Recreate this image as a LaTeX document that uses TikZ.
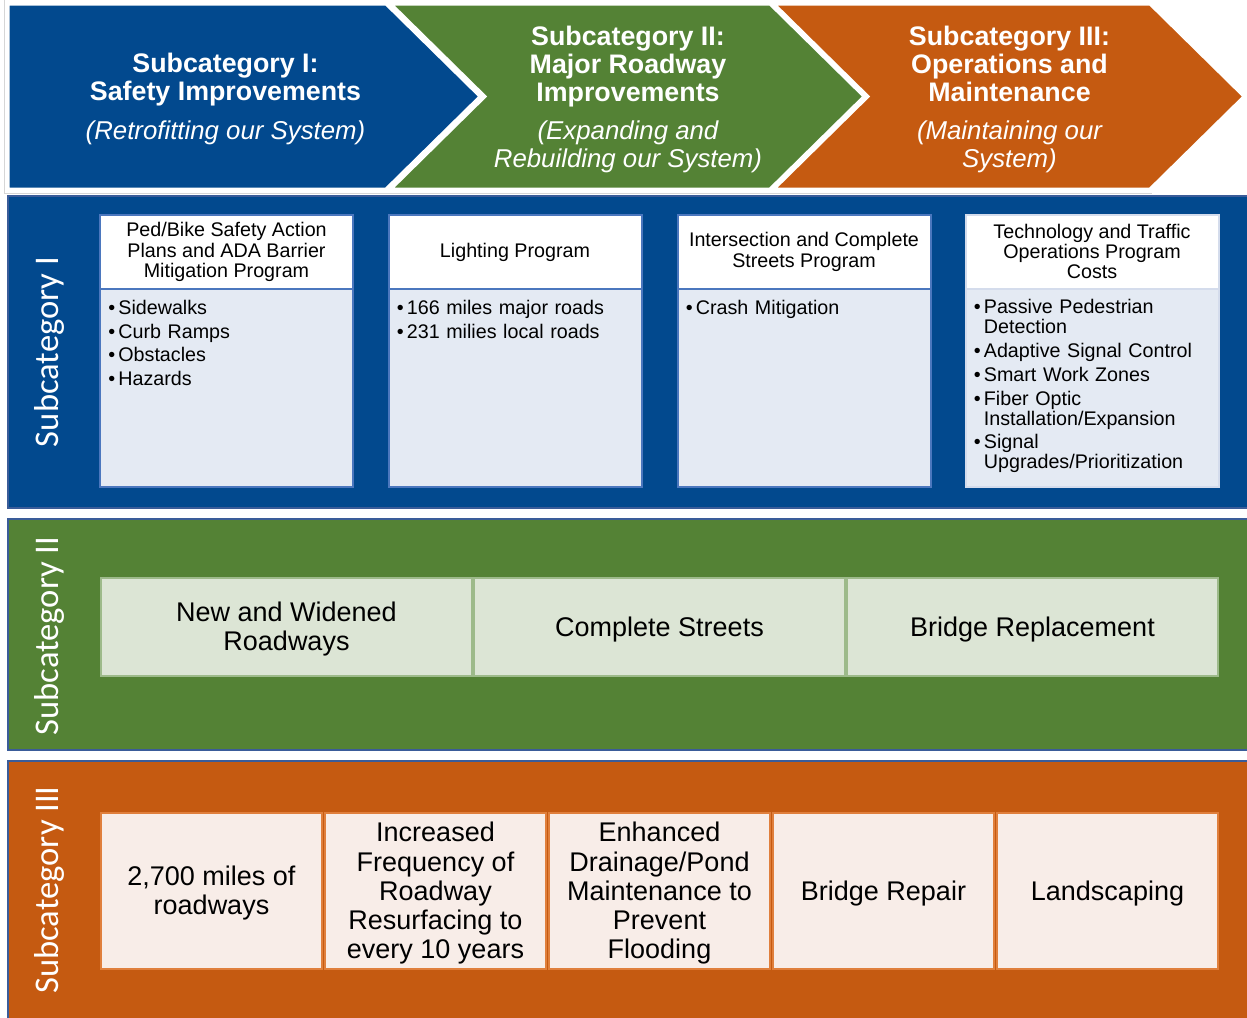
\documentclass[tikz,border=0pt]{standalone}
\usepackage{fontspec}
\setmainfont{Liberation Sans}
\newfontfamily\sidefont{Carlito}

\definecolor{pblue}{HTML}{02498E}
\definecolor{pgreen}{HTML}{548235}
\definecolor{porange}{HTML}{C55A11}
\definecolor{pedge}{HTML}{3A5C99}
\definecolor{bline}{HTML}{4B77BE}
\definecolor{bfill}{HTML}{E4EAF3}
\definecolor{bline4}{HTML}{D4DCEC}
\definecolor{gfill}{HTML}{DCE5D5}
\definecolor{gline}{HTML}{9DBA8A}
\definecolor{ofill}{HTML}{F8EDE8}
\definecolor{oline}{HTML}{E07F3C}
\definecolor{frameg}{HTML}{D6D6D6}

% one bullet item with hanging indent
\newcommand\bitem{\par\hangindent=5pt\hangafter=1\noindent\makebox[5pt][l]{•}}

\begin{document}
\begin{tikzpicture}[x=0.5pt,y=-0.5pt,
  chevedge/.style={draw=white,line width=1.5pt,line join=miter},
  panel/.style={draw=pedge,line width=1pt},
  chevtext/.style={text=white,align=center,inner sep=0,
    font=\fontsize{13.4}{14}\selectfont\bfseries},
  sidelabel/.style={text=white,rotate=90,inner sep=0,
    font=\sidefont\fontsize{17.3}{20}\selectfont},
  hdr/.style={fill=white,draw=bline,line width=1pt,minimum width=126.5pt,
    minimum height=37pt,inner sep=0,align=center,
    font=\fontsize{9.85}{10.15}\selectfont},
  bodyb/.style={fill=bfill,draw=bline,line width=1pt,minimum width=126.5pt,
    minimum height=99pt,inner sep=0},
  blist/.style={anchor=north west,inner sep=0,text width=120pt,align=left,
    font=\fontsize{9.85}{10}\selectfont},
  boxtext/.style={align=center,font=\fontsize{13.5}{14.6}\selectfont},
  gbox/.style={fill=gfill,draw=gline,line width=0.6pt,minimum width=185.5pt,
    minimum height=49pt,inner sep=0},
  obox/.style={fill=ofill,draw=oline,line width=0.6pt,minimum width=110.5pt,
    minimum height=78pt,inner sep=0}]
\useasboundingbox (0,0) rectangle (1247,1017);
\clip (0,0) rectangle (1247,1017);

% thin frame around the heading band
\draw[frameg,line width=0.5pt] (4,0) -- (4,193) -- (1152,193);

% heading chevrons
\filldraw[fill=pblue,chevedge] (8,4) -- (386,4) -- (480,96.5) -- (386,189) -- (8,189) -- cycle;
\filldraw[fill=pgreen,chevedge] (391,4) -- (770,4) -- (864,96.5) -- (770,189) -- (391,189) -- (485,96.5) -- cycle;
\filldraw[fill=porange,chevedge] (774,4) -- (1150,4) -- (1244,96.5) -- (1150,189) -- (774,189) -- (868,96.5) -- cycle;

\node[chevtext] (t1) at (225.5,99) {Subcategory I:\\Safety Improvements\\[5.2pt]
  \fontsize{12.9}{14}\selectfont\mdseries\itshape (Retrofitting our System)};
\node[chevtext] (t2) at (628,99.5) {Subcategory II:\\Major Roadway\\Improvements\\[5.2pt]
  \fontsize{12.9}{14}\selectfont\mdseries\itshape (Expanding and\\
  \fontsize{12.9}{14}\selectfont\mdseries\itshape Rebuilding our System)};
\node[chevtext] (t3) at (1009.5,99.5) {Subcategory III:\\Operations and\\Maintenance\\[5.2pt]
  \fontsize{12.9}{14}\selectfont\mdseries\itshape (Maintaining our\\
  \fontsize{12.9}{14}\selectfont\mdseries\itshape System)};

% category panels
\filldraw[fill=pblue,panel] (8,196) rectangle (1256,508);
\filldraw[fill=pgreen,panel] (8,519) rectangle (1256,750);
\filldraw[fill=porange,panel] (8,761) rectangle (1256,1030);

\node[sidelabel] (s1) at (49.5,352) {Subcategory I};
\node[sidelabel] (s2) at (49.5,636) {Subcategory II};
\node[sidelabel] (s3) at (49.5,890) {Subcategory III};

% Subcategory I programs
\node[hdr] (h1) at (226.5,252) {Ped/Bike Safety Action\\Plans and ADA Barrier\\Mitigation Program};
\node[bodyb] (b1) at (226.5,388) {};
\node[blist] (l1) at ([xshift=4.5pt,yshift=-1pt]b1.north west)
  {\setlength\parskip{1.9pt}\bitem Sidewalks\bitem Curb Ramps\bitem Obstacles\bitem Hazards\par};

\node[hdr] (h2) at (515,252) {Lighting Program};
\node[bodyb] (b2) at (515,388) {};
\node[blist] (l2) at ([xshift=4.5pt,yshift=-1pt]b2.north west)
  {\setlength\parskip{1.9pt}\bitem 166 miles major roads\bitem 231 milies local roads\par};

\node[hdr] (h3) at (804,252) {Intersection and Complete\\Streets Program};
\node[bodyb] (b3) at (804,388) {};
\node[blist] (l3) at ([xshift=4.5pt,yshift=-1pt]b3.north west)
  {\setlength\parskip{1.9pt}\bitem Crash Mitigation\par};

\node[hdr,draw=bline4] (h4) at (1092,251.5) {Technology and Traffic\\Operations Program\\Costs};
\node[bodyb,draw=bline4] (b4) at (1092,387.5) {};
\node[blist] (l4) at ([xshift=4.5pt,yshift=-1pt]b4.north west)
  {\setlength\parskip{1.9pt}\bitem Passive Pedestrian\newline Detection
   \bitem Adaptive Signal Control\bitem Smart Work Zones
   \bitem Fiber Optic\newline Installation/Expansion
   \bitem Signal\newline Upgrades/Prioritization\par};

% Subcategory II programs
\node[gbox] (g1) at (286.5,627) {};
\node[gbox] (g2) at (659.5,627) {};
\node[gbox] (g3) at (1032.5,627) {};
\node[boxtext] (g1t) at ([yshift=-1.2pt]g1.center) {New and Widened\\Roadways};
\node[boxtext] (g2t) at ([yshift=-1.2pt]g2.center) {Complete Streets};
\node[boxtext] (g3t) at ([yshift=-1.2pt]g3.center) {Bridge Replacement};

% Subcategory III programs
\node[obox] (o1) at (211.5,891) {};
\node[obox] (o2) at (435.5,891) {};
\node[obox] (o3) at (659.5,891) {};
\node[obox] (o4) at (883.5,891) {};
\node[obox] (o5) at (1107.5,891) {};
\node[boxtext] (o1t) at ([yshift=-1.2pt]o1.center) {2,700 miles of\\roadways};
\node[boxtext] (o2t) at ([yshift=-1.2pt]o2.center) {Increased\\Frequency of\\Roadway\\Resurfacing to\\every 10 years};
\node[boxtext] (o3t) at ([yshift=-1.2pt]o3.center) {Enhanced\\Drainage/Pond\\Maintenance to\\Prevent\\Flooding};
\node[boxtext] (o4t) at ([yshift=-1.2pt]o4.center) {Bridge Repair};
\node[boxtext] (o5t) at ([yshift=-1.2pt]o5.center) {Landscaping};
\end{tikzpicture}
\end{document}
